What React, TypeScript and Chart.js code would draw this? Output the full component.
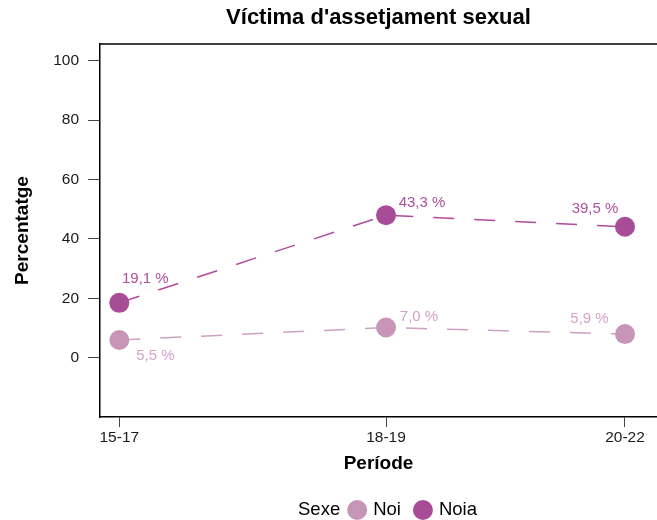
import React, { useEffect, useRef } from "react";
import { Chart, registerables } from "chart.js";

Chart.register(...registerables);

// ---------- data ----------
const periods = ["15-17", "18-19", "20-22"];
const periodPos = [0, 1, 1.896];
const noiValues = [6.0, 10.2, 8.0];
const noiaValues = [18.5, 48.0, 44.1];
const noiLabels = ["5,5 %", "7,0 %", "5,9 %"];
const noiaLabels = ["19,1 %", "43,3 %", "39,5 %"];
const yTicks = [0, 20, 40, 60, 80, 100];
const seriesNames = ["Noi", "Noia"];
const legendTitle = "Sexe";
const chartTitle = "Víctima d'assetjament sexual";
const xTitle = "Període";
const yTitle = "Percentatge";

// ---------- style ----------
const FONT = "'Liberation Sans', Arial, Helvetica, sans-serif";
const noiOffsets = [
  [36, 16],
  [33, -10.6],
  [-35.5, -15.3],
];
const noiaOffsets = [
  [26, -24],
  [36, -12.5],
  [-30, -17.7],
];
const NOI_POINT = "#c796b7";
const NOI_LINE = "#cfa0c6";
const NOI_LABEL = "#d3a3cb";
const NOIA_POINT = "#a94c98";
const NOIA_LINE = "#b04a9e";
const NOIA_LABEL = "#b24f9d";

const pointLabelPlugin = {
  id: "pointLabels",
  afterDatasetsDraw(chart: any) {
    const ctx = chart.ctx;
    ctx.save();
    ctx.font = `15px ${FONT}`;
    ctx.textAlign = "center";
    ctx.textBaseline = "middle";
    chart.data.datasets.forEach((ds: any, i: number) => {
      const meta = chart.getDatasetMeta(i);
      meta.data.forEach((el: any, j: number) => {
        ctx.fillStyle = ds.labelColor;
        ctx.fillText(
          ds.valueLabels[j],
          el.x + ds.labelOffsets[j][0],
          el.y + ds.labelOffsets[j][1]
        );
      });
    });
    ctx.restore();
  },
};

const frameTopPlugin = {
  id: "frameTop",
  afterDraw(chart: any) {
    const { ctx, chartArea } = chart;
    ctx.save();
    ctx.strokeStyle = "#000";
    ctx.lineWidth = 1.5;
    ctx.beginPath();
    ctx.moveTo(chartArea.left - 0.75, chartArea.top);
    ctx.lineTo(chartArea.right, chartArea.top);
    ctx.stroke();
    ctx.restore();
  },
};

const customLegendPlugin = {
  id: "customLegend",
  afterDraw(chart: any) {
    const { ctx, chartArea } = chart;
    ctx.save();
    ctx.font = `18.5px ${FONT}`;
    ctx.textBaseline = "middle";
    ctx.textAlign = "left";
    const y = 510;
    const r = 10;
    const gapTxtCircle = 7;
    const gapCircleTxt = 6;
    const gapItems = 12;
    const items = chart.data.datasets.map((ds: any) => ({
      text: ds.label,
      color: ds.pointBackgroundColor,
    }));
    let total = ctx.measureText(legendTitle).width;
    items.forEach((it: any, k: number) => {
      total += (k === 0 ? gapTxtCircle : gapItems) + 2 * r + gapCircleTxt;
      total += ctx.measureText(it.text).width;
    });
    const center = (chartArea.left + chartArea.right) / 2 + 9;
    let x = center - total / 2;
    ctx.fillStyle = "#000";
    ctx.fillText(legendTitle, x, y);
    x += ctx.measureText(legendTitle).width;
    items.forEach((it: any, k: number) => {
      x += k === 0 ? gapTxtCircle : gapItems;
      ctx.fillStyle = it.color;
      ctx.beginPath();
      ctx.arc(x + r, y, r, 0, Math.PI * 2);
      ctx.fill();
      x += 2 * r + gapCircleTxt;
      ctx.fillStyle = "#000";
      ctx.fillText(it.text, x, y);
      x += ctx.measureText(it.text).width;
    });
    ctx.restore();
  },
};

export default function App() {
  const canvasRef = useRef<HTMLCanvasElement | null>(null);

  useEffect(() => {
    if (!canvasRef.current) return;
    Chart.defaults.font.family = FONT;
    const chart = new Chart(canvasRef.current, {
      type: "line",
      data: {
        datasets: [
          {
            label: seriesNames[0],
            data: periodPos.map((x, i) => ({ x, y: noiValues[i] })),
            borderColor: NOI_LINE,
            borderWidth: 1.5,
            borderDash: [21, 20],
            pointBackgroundColor: NOI_POINT,
            pointBorderWidth: 0,
            pointRadius: 10,
            pointHoverRadius: 10,
            tension: 0,
            fill: false,
            clip: false,
            valueLabels: noiLabels,
            labelOffsets: noiOffsets,
            labelColor: NOI_LABEL,
          } as any,
          {
            label: seriesNames[1],
            data: periodPos.map((x, i) => ({ x, y: noiaValues[i] })),
            borderColor: NOIA_LINE,
            borderWidth: 1.5,
            borderDash: [21, 20],
            pointBackgroundColor: NOIA_POINT,
            pointBorderWidth: 0,
            pointRadius: 10,
            pointHoverRadius: 10,
            tension: 0,
            fill: false,
            clip: false,
            valueLabels: noiaLabels,
            labelOffsets: noiaOffsets,
            labelColor: NOIA_LABEL,
          } as any,
        ],
      },
      options: {
        responsive: false,
        animation: false,
        layout: {
          autoPadding: false,
          padding: { left: 0, right: 0, top: 0, bottom: 43 },
        },
        plugins: {
          legend: { display: false },
          tooltip: { enabled: false },
          title: {
            display: true,
            text: chartTitle,
            fullSize: false,
            color: "#000",
            font: { size: 22, weight: "bold", family: FONT },
            padding: { top: 5, bottom: 12.6 },
          },
        },
        scales: {
          x: {
            type: "linear",
            position: "bottom",
            min: -0.0724,
            max: 2.016,
            afterBuildTicks: (scale: any) => {
              scale.ticks = periodPos.map((v) => ({ value: v }));
            },
            afterFit: (scale: any) => {
              scale.height = 60;
              scale.paddingLeft = 0;
              scale.paddingRight = 0;
            },
            ticks: {
              autoSkip: false,
              maxRotation: 0,
              minRotation: 0,
              padding: 1,
              color: "#1a1a1a",
              font: { size: 15.5, family: FONT },
              callback: (_v: any, i: number) => periods[i],
            },
            grid: {
              drawOnChartArea: false,
              drawTicks: true,
              tickLength: 10,
              color: "#444",
              lineWidth: 1,
            },
            border: { display: true, color: "#000", width: 1.5 },
            title: {
              display: true,
              text: xTitle,
              color: "#000",
              font: { size: 19, weight: "bold", family: FONT },
              padding: { top: 0, bottom: 2 },
            },
          },
          y: {
            type: "linear",
            position: "left",
            min: -19.9,
            max: 105.6,
            afterBuildTicks: (scale: any) => {
              scale.ticks = yTicks.map((v) => ({ value: v }));
            },
            afterFit: (scale: any) => {
              scale.width = 100;
              scale.paddingTop = 0;
              scale.paddingBottom = 0;
            },
            ticks: {
              padding: 9,
              color: "#1a1a1a",
              font: { size: 15.5, family: FONT },
            },
            grid: {
              drawOnChartArea: false,
              drawTicks: true,
              tickLength: 12,
              color: "#444",
              lineWidth: 1,
            },
            border: { display: true, color: "#000", width: 1.5 },
            title: {
              display: true,
              text: yTitle,
              color: "#000",
              font: { size: 19, weight: "bold", family: FONT },
              padding: { top: 11, bottom: 0 },
            },
          },
        },
      },
      plugins: [pointLabelPlugin, frameTopPlugin, customLegendPlugin],
    } as any);
    return () => chart.destroy();
  }, []);

  return (
    <div
      style={{
        position: "absolute",
        left: 0,
        top: 0,
        width: 657,
        height: 520,
        background: "#fff",
      }}
    >
      <canvas ref={canvasRef} width={657} height={520} />
    </div>
  );
}
